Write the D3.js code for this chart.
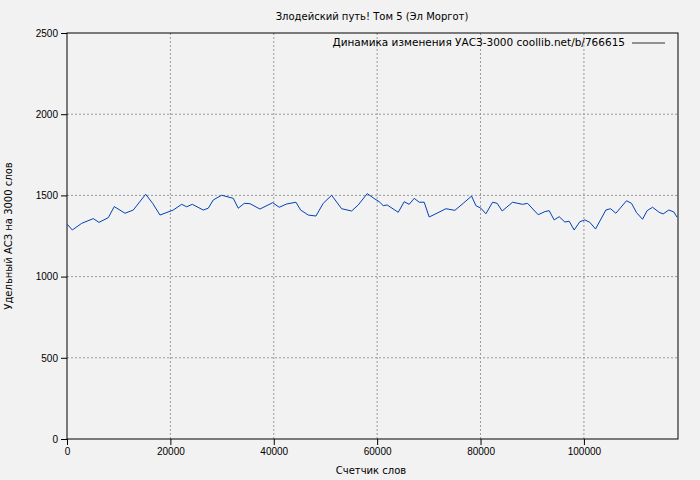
<!DOCTYPE html>
<html><head><meta charset="utf-8">
<script src="https://cdn.jsdelivr.net/npm/d3@7"></script>
<style>
body{margin:0;background:#f2f2f2;}
svg{font-family:"DejaVu Sans",sans-serif;}
.tick text{font-size:10px;}
</style></head><body>
<svg width="700" height="480"></svg>
<script>
const width = 700, height = 480;
const margin = { top: 33, right: 22, bottom: 41, left: 67 };

// Счетчик слов
const words = [58,1025,2843,5086,6189,7987,9148,11217,12822,15220,16574,17986,20558,22183,23150,24233,26360,27327,28294,29919,32162,33129,34290,35392,37326,39782,41059,42490,44289,45198,46667,48157,49568,51193,53127,55061,56338,58078,59568,60400,61173,61947,64074,65234,66201,67168,68135,69102,70069,71171,73299,75039,76645,78269,79101,80068,81035,82331,83220,84187,86199,88133,89100,91150,92446,93277,94244,95211,96313,97145,98112,99214,100181,101148,102250,104243,105152,106177,108246,109213,110180,111340,112230,113274,114551,115324,116427,117394,118032];
// Удельный АСЗ
const asz = [1322,1287,1328,1357,1334,1363,1431,1390,1410,1507,1451,1379,1410,1445,1430,1445,1410,1421,1472,1501,1482,1421,1451,1449,1416,1455,1427,1447,1458,1410,1379,1373,1451,1501,1418,1404,1441,1511,1478,1461,1437,1441,1396,1461,1445,1482,1458,1458,1367,1384,1418,1408,1451,1496,1437,1421,1387,1458,1451,1404,1458,1445,1451,1381,1400,1406,1349,1369,1336,1341,1287,1338,1349,1334,1293,1410,1418,1390,1467,1451,1394,1353,1406,1427,1396,1386,1410,1398,1365];
const xTicks = [0,20000,40000,60000,80000,100000];
const yTicks = [0,500,1000,1500,2000,2500];

const svg = d3.select("svg");

const x = d3.scaleLinear().domain([0,118200]).range([margin.left, width - margin.right]);
const y = d3.scaleLinear().domain([0,2500]).range([height - margin.bottom, margin.top]);

// сетка
svg.append("g").selectAll("line").data(xTicks.slice(1)).join("line")
  .attr("x1", d => x(d)).attr("x2", d => x(d))
  .attr("y1", margin.top).attr("y2", height - margin.bottom)
  .attr("stroke", "#999").attr("stroke-dasharray", "2,2");
svg.append("g").selectAll("line").data(yTicks.slice(1,-1)).join("line")
  .attr("x1", margin.left).attr("x2", width - margin.right)
  .attr("y1", d => y(d)).attr("y2", d => y(d))
  .attr("stroke", "#999").attr("stroke-dasharray", "2,2");

// рамка
svg.append("rect").attr("x", margin.left).attr("y", margin.top)
  .attr("width", width - margin.left - margin.right)
  .attr("height", height - margin.top - margin.bottom)
  .attr("fill", "none").attr("stroke", "#000");

svg.append("g").attr("transform", `translate(0,${height - margin.bottom})`)
  .call(d3.axisBottom(x).tickValues(xTicks).tickFormat(d3.format("d")).tickSizeOuter(0))
  .call(g => g.select(".domain").remove());
svg.append("g").attr("transform", `translate(${margin.left},0)`)
  .call(d3.axisLeft(y).tickValues(yTicks).tickFormat(d3.format("d")).tickSizeOuter(0))
  .call(g => g.select(".domain").remove());

svg.append("path").datum(words.map((w, i) => [w, asz[i]]))
  .attr("fill", "none").attr("stroke", "#0041b8").attr("stroke-width", 1)
  .attr("d", d3.line().x(d => x(d[0])).y(d => y(d[1])));

svg.append("text").attr("x", 372).attr("y", 20).attr("text-anchor", "middle")
  .attr("font-size", 10).text("Злодейский путь! Том 5 (Эл Моргот)");
svg.append("text").attr("x", 371).attr("y", 474).attr("text-anchor", "middle")
  .attr("font-size", 10).text("Счетчик слов");
svg.append("text").attr("transform", "rotate(-90)").attr("x", -236).attr("y", 12)
  .attr("text-anchor", "middle").attr("font-size", 10).text("Удельный АСЗ на 3000 слов");

// легенда
svg.append("text").attr("x", 625).attr("y", 46).attr("text-anchor", "end")
  .attr("font-size", 10.5).text("Динамика изменения УАСЗ-3000 coollib.net/b/766615");
svg.append("line").attr("x1", 632).attr("x2", 665).attr("y1", 43).attr("y2", 43)
  .attr("stroke", "#333");
</script></body></html>
